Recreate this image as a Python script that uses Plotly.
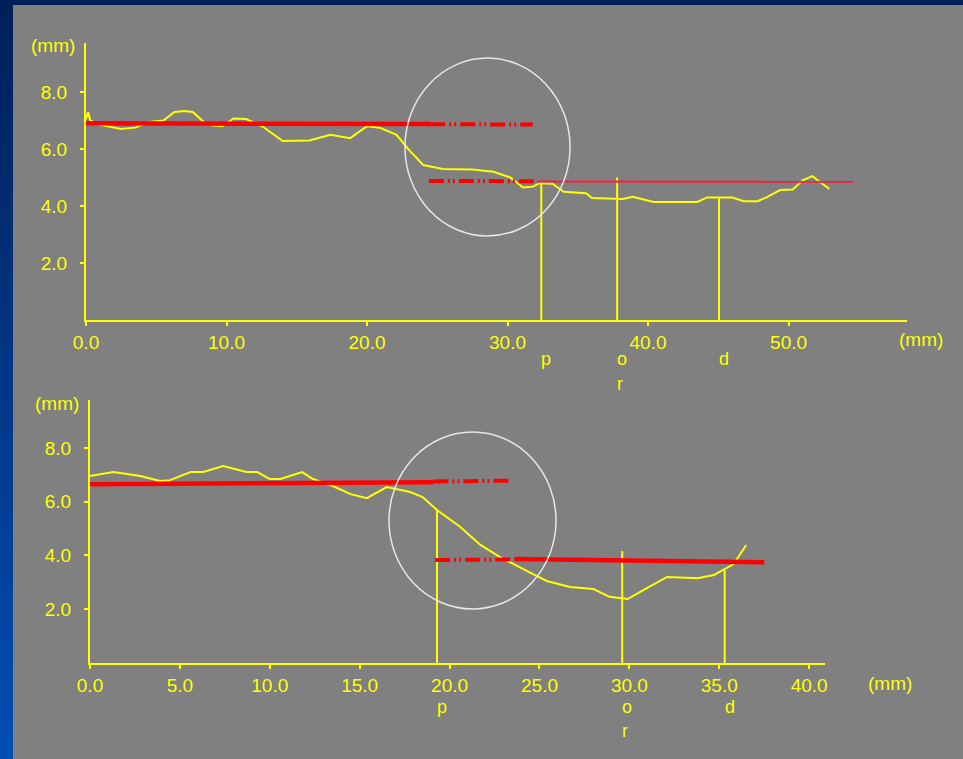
import plotly.graph_objects as go

# ---------------- data ----------------
# Top profile
top_x = [0, 0.15, 0.3, 1.0, 2.5, 3.5, 4.5, 5.5, 6.3, 7.0, 7.6, 8.6, 9.7, 10.5, 11.4, 12.6, 14.0, 15.9,
         17.4, 18.8, 20.0, 20.9, 22.1, 23.0, 24.0, 25.4, 27.5, 29.0, 30.2, 31.1, 31.8, 32.3, 33.2, 34.0,
         35.6, 36.0, 38.2, 38.9, 39.9, 40.4, 43.5, 44.2, 46.0, 46.8, 47.8, 48.5, 49.4, 50.3, 51.0, 51.7,
         52.2, 52.9]
top_y = [7.05, 7.3, 7.0, 6.85, 6.7, 6.75, 6.95, 7.0, 7.3, 7.33, 7.3, 6.85, 6.8, 7.07, 7.05, 6.78, 6.28, 6.3,
         6.5, 6.38, 6.8, 6.75, 6.5, 5.96, 5.44, 5.3, 5.28, 5.2, 5.0, 4.65, 4.68, 4.8, 4.78, 4.5,
         4.45, 4.28, 4.25, 4.32, 4.2, 4.14, 4.14, 4.3, 4.3, 4.17, 4.17, 4.32, 4.56, 4.58, 4.9, 5.05,
         4.85, 4.6]
top_ref_prox_x = [0, 24.5]
top_ref_prox_y = [6.9, 6.88]
top_ref_prox_ext_x = [24.5, 31.8]
top_ref_prox_ext_y = [6.87, 6.86]
top_ref_dist_ext_x = [24.4, 32.1]
top_ref_dist_ext_y = [4.88, 4.87]
top_ref_dist_x = [32.1, 54.6]
top_ref_dist_y = [4.86, 4.85]
top_marks = ["p", "o", "d"]
top_marks_x = [32.4, 37.8, 45.05]
top_marks_top = [4.8, 5.0, 4.3]
top_xticks = [0, 10, 20, 30, 40, 50]

# Bottom profile
bot_x = [0, 1.3, 2.8, 3.9, 4.45, 5.6, 6.3, 7.4, 8.7, 9.3, 10.0, 10.6, 11.8, 12.4, 13.5, 14.5, 15.4, 16.5,
         17.8, 18.5, 19.3, 20.6, 21.7, 22.8, 24.5, 25.4, 26.7, 28.0, 28.9, 29.9, 31.0, 32.1, 33.8, 34.7,
         35.8, 36.5]
bot_y = [6.95, 7.1, 6.95, 6.77, 6.8, 7.1, 7.1, 7.32, 7.1, 7.1, 6.84, 6.84, 7.1, 6.84, 6.58, 6.28, 6.13, 6.54,
         6.36, 6.17, 5.69, 5.06, 4.4, 3.94, 3.35, 3.05, 2.83, 2.75, 2.46, 2.38, 2.79, 3.2, 3.15, 3.27,
         3.68, 4.39]
bot_ref_prox_x = [0, 19.1]
bot_ref_prox_y = [6.65, 6.72]
bot_ref_prox_ext_x = [19.1, 23.4]
bot_ref_prox_ext_y = [6.75, 6.78]
bot_ref_dist_ext_x = [19.2, 23.6]
bot_ref_dist_ext_y = [3.83, 3.85]
bot_ref_dist_x = [23.6, 37.5]
bot_ref_dist_y = [3.87, 3.75]
bot_marks = ["p", "o", "d"]
bot_marks_x = [19.3, 29.6, 35.3]
bot_marks_top = [5.69, 4.16, 3.46]
bot_xticks = [0, 5, 10, 15, 20, 25, 30, 35, 40]

y_ticks = [2, 4, 6, 8]

# ---------------- styling ----------------
W, H = 963, 759
YEL = "#ffff00"
RED = "#ff0000"
GRAY = "#808080"
FONT = "Liberation Sans, Arial, sans-serif"
DASHDOT = "15px,4px,2px,3px,2px,4px"


def px_x(p):
    return p / W


def px_y(p):
    return 1 - p / H


fig = go.Figure()


def add_panel(xa, ya, cx, cy, rp_x, rp_y, rpe_x, rpe_y, rde_x, rde_y, rd_x, rd_y,
              mx, mtop, thin_dist):
    fig.add_trace(go.Scatter(x=cx, y=cy, mode="lines", line=dict(color=YEL, width=2),
                             xaxis=xa, yaxis=ya, hoverinfo="skip"))
    for xv, tv in zip(mx, mtop):
        fig.add_trace(go.Scatter(x=[xv, xv], y=[0, tv], mode="lines",
                                 line=dict(color=YEL, width=2), xaxis=xa, yaxis=ya,
                                 hoverinfo="skip"))
    fig.add_trace(go.Scatter(x=rp_x, y=rp_y, mode="lines", line=dict(color=RED, width=4.5),
                             xaxis=xa, yaxis=ya, hoverinfo="skip"))
    fig.add_trace(go.Scatter(x=rpe_x, y=rpe_y, mode="lines",
                             line=dict(color=RED, width=4, dash=DASHDOT),
                             xaxis=xa, yaxis=ya, hoverinfo="skip"))
    fig.add_trace(go.Scatter(x=rde_x, y=rde_y, mode="lines",
                             line=dict(color=RED, width=4, dash=DASHDOT),
                             xaxis=xa, yaxis=ya, hoverinfo="skip"))
    fig.add_trace(go.Scatter(x=rd_x, y=rd_y, mode="lines",
                             line=dict(color="#ff1a40" if thin_dist else RED,
                                       width=2 if thin_dist else 4.5),
                             xaxis=xa, yaxis=ya, hoverinfo="skip"))


add_panel("x", "y", top_x, top_y, top_ref_prox_x, top_ref_prox_y, top_ref_prox_ext_x,
          top_ref_prox_ext_y, top_ref_dist_ext_x, top_ref_dist_ext_y, top_ref_dist_x,
          top_ref_dist_y, top_marks_x, top_marks_top, True)
add_panel("x2", "y2", bot_x, bot_y, bot_ref_prox_x, bot_ref_prox_y, bot_ref_prox_ext_x,
          bot_ref_prox_ext_y, bot_ref_dist_ext_x, bot_ref_dist_ext_y, bot_ref_dist_x,
          bot_ref_dist_y, bot_marks_x, bot_marks_top, False)

tickfont = dict(family=FONT, size=19, color=YEL)
axis_common = dict(showgrid=False, zeroline=False, showline=True, linecolor=YEL, linewidth=2,
                   ticks="outside", ticklen=4, tickwidth=2, tickcolor=YEL, tickfont=tickfont,
                   fixedrange=True, automargin=False)

fig.update_layout(
    template="none",
    width=W, height=H, autosize=False,
    margin=dict(l=0, r=0, t=0, b=0, pad=0),
    paper_bgcolor=GRAY,
    plot_bgcolor="rgba(0,0,0,0)",
    showlegend=False,
    xaxis=dict(domain=[px_x(86), px_x(907)], range=[0, 58.43], anchor="y",
               tickmode="array", tickvals=top_xticks,
               ticktext=[f"{v:.1f}" for v in top_xticks], ticklabelstandoff=0, **axis_common),
    yaxis=dict(domain=[px_y(320), px_y(43)], range=[0, 9.72], anchor="x",
               tickmode="array", tickvals=y_ticks,
               ticktext=[f"{v:.1f}" for v in y_ticks], ticklabelstandoff=9, **axis_common),
    xaxis2=dict(domain=[px_x(90), px_x(825)], range=[0, 40.88], anchor="y2",
                tickmode="array", tickvals=bot_xticks,
                ticktext=[f"{v:.1f}" for v in bot_xticks], ticklabelstandoff=0, **axis_common),
    yaxis2=dict(domain=[px_y(663), px_y(400)], range=[0, 9.78], anchor="x2",
                tickmode="array", tickvals=y_ticks,
                ticktext=[f"{v:.1f}" for v in y_ticks], ticklabelstandoff=9, **axis_common),
)

shapes = []
# blue frame: top band and left gradient band
shapes.append(dict(type="rect", xref="paper", yref="paper", x0=0, x1=1, y0=px_y(5), y1=1,
                   fillcolor="#00205a", line=dict(width=0), layer="below"))
n = 40
for i in range(n):
    t = i / (n - 1)
    r, g, b = 0, int(32 + (78 - 32) * t), int(90 + (180 - 90) * t)
    shapes.append(dict(type="rect", xref="paper", yref="paper", x0=0, x1=px_x(13),
                       y0=px_y(H * (i + 1) / n) - 0.001, y1=px_y(H * i / n),
                       fillcolor=f"rgb({r},{g},{b})", line=dict(width=0), layer="below"))
# circles
shapes.append(dict(type="circle", xref="x", yref="y", x0=22.7, x1=34.45, y0=2.95, y1=9.19,
                   line=dict(color="#e6e6e6", width=1.5)))
shapes.append(dict(type="circle", xref="x2", yref="y2", x0=16.63, x1=25.92, y0=2.01, y1=8.59,
                   line=dict(color="#e6e6e6", width=1.5)))
fig.update_layout(shapes=shapes)

ann = []
lab_font = dict(family=FONT, size=19, color=YEL)
mark_font = dict(family=FONT, size=18, color=YEL)
# axis unit labels
ann.append(dict(text="(mm)", x=px_x(53), y=px_y(46), xref="paper", yref="paper",
                showarrow=False, font=lab_font, xanchor="center", yanchor="middle"))
ann.append(dict(text="(mm)", x=px_x(57), y=px_y(404), xref="paper", yref="paper",
                showarrow=False, font=lab_font, xanchor="center", yanchor="middle"))
ann.append(dict(text="(mm)", x=px_x(921), y=px_y(339), xref="paper", yref="paper",
                showarrow=False, font=lab_font, xanchor="center", yanchor="middle"))
ann.append(dict(text="(mm)", x=px_x(890), y=px_y(683), xref="paper", yref="paper",
                showarrow=False, font=lab_font, xanchor="center", yanchor="middle"))
# p / o / d labels under the marker lines, with 'r' under 'o'
for xa, names, xs, ly, ry in (("x", top_marks, top_marks_x, 348, 373),
                              ("x2", bot_marks, bot_marks_x, 696, 720)):
    for nm, xv in zip(names, xs):
        ann.append(dict(text=nm, x=xv, xref=xa, y=px_y(ly), yref="paper", xshift=5,
                        showarrow=False, font=mark_font, xanchor="center", yanchor="top",
                        borderpad=0))
        if nm == "o":
            ann.append(dict(text="r", x=xv, xref=xa, y=px_y(ry), yref="paper", xshift=3,
                            showarrow=False, font=mark_font, xanchor="center",
                            yanchor="top", borderpad=0))
fig.update_layout(annotations=ann)

fig.write_html(
    "out.html",
    config={"responsive": False, "displayModeBar": False},
    post_script="document.body.style.margin='0';document.body.style.overflow='hidden';",
)
